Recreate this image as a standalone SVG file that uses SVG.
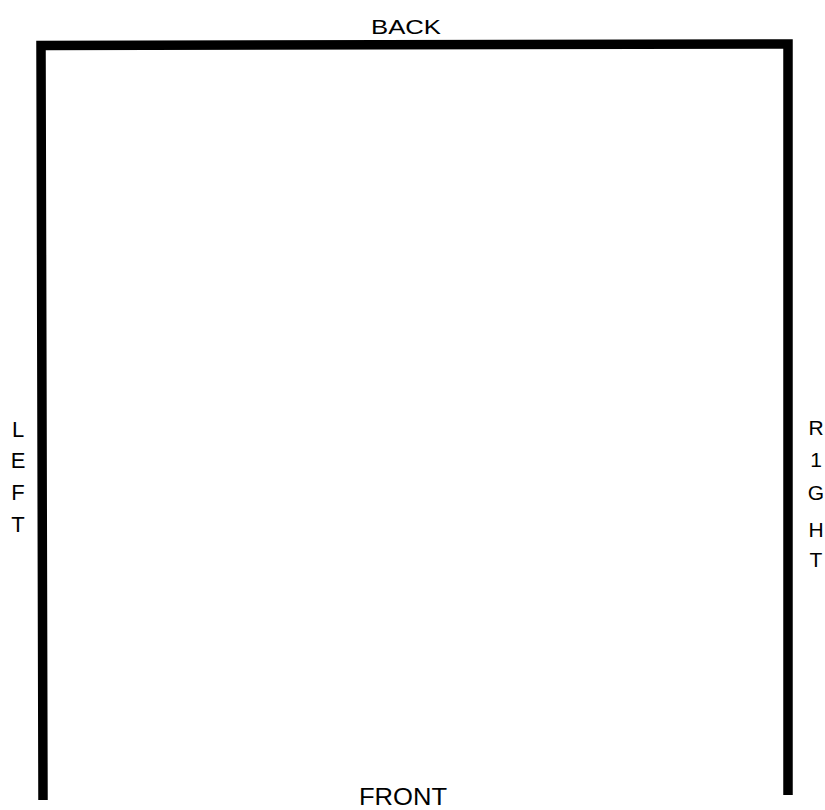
<svg xmlns="http://www.w3.org/2000/svg" width="825" height="810" viewBox="0 0 825 810">
<style>
.lbl{font-family:"Liberation Sans",Arial,sans-serif;fill:#000;}
.wall{fill:none;stroke:#000;stroke-width:9.5;stroke-linejoin:miter;stroke-linecap:butt;}
</style>
<rect width="825" height="810" fill="#fff"/>
<g id="walls">
<path class="wall" d="M43 800 L41 45.5 L788 44 L788 795"/>
</g>
<g id="labels">
<text class="lbl" x="406" y="34" font-size="21" text-anchor="middle" textLength="70" lengthAdjust="spacingAndGlyphs">BACK</text>
<text class="lbl" x="403" y="805" font-size="23" text-anchor="middle" textLength="88" lengthAdjust="spacingAndGlyphs">FRONT</text>
<g font-size="22" text-anchor="middle">
<text class="lbl" x="18" y="437">L</text>
<text class="lbl" x="18" y="468">E</text>
<text class="lbl" x="18" y="500">F</text>
<text class="lbl" x="18" y="532">T</text>
</g>
<g font-size="21" text-anchor="middle">
<text class="lbl" x="816" y="435">R</text>
<text class="lbl" x="816" y="467">1</text>
<text class="lbl" x="816" y="500">G</text>
<text class="lbl" x="816" y="537">H</text>
<text class="lbl" x="816" y="567">T</text>
</g>
</g>
</svg>
